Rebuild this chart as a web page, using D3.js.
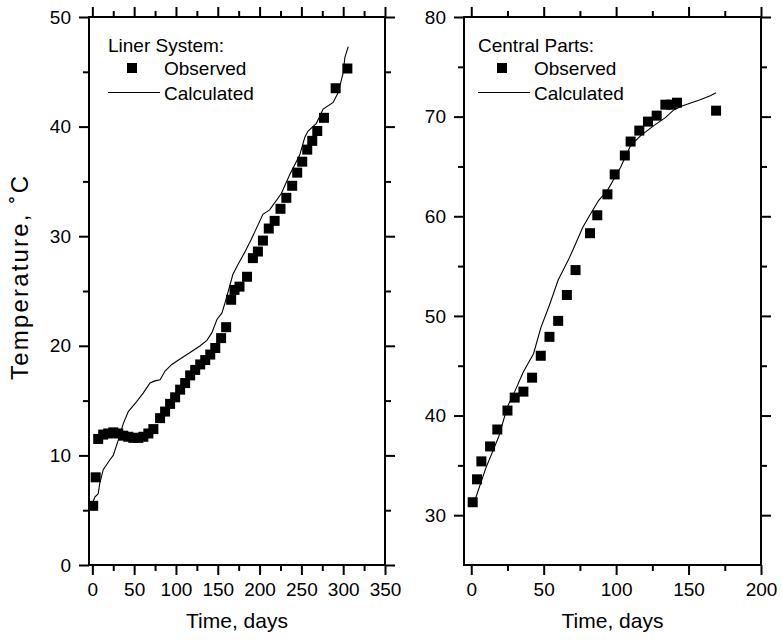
<!DOCTYPE html>
<html>
<head>
<meta charset="utf-8">
<script src="https://cdn.jsdelivr.net/npm/d3@7"></script>
<style>
  body { margin: 0; background: #fff; }
  svg { display: block; font-family: "Liberation Sans", Arial, sans-serif; }
  .tick text { font-size: 19px; fill: #000; }
  .tick line { stroke: #000; stroke-width: 2; }
  .title { font-size: 21px; }
  .legend { font-size: 19px; }
</style>
</head>
<body>
<script>
(function() {

// Liner system: observed / calculated (days, degC)
var linerObsDays = [1, 4, 7, 13, 19, 25, 31, 37, 43, 49, 55, 61, 67, 73, 81, 87, 93, 99, 105, 111, 117, 123, 129, 135, 141, 147, 154, 160, 166, 170, 176, 185, 192, 198, 204, 211, 218, 225, 232, 239, 245, 251, 257, 263, 269, 277, 291, 305];
var linerObsTemp = [5.4, 8.0, 11.5, 11.9, 12.0, 12.1, 12.0, 11.8, 11.7, 11.6, 11.6, 11.7, 12.0, 12.4, 13.4, 14.0, 14.7, 15.3, 16.0, 16.6, 17.3, 17.8, 18.3, 18.7, 19.2, 19.8, 20.7, 21.7, 24.2, 25.1, 25.4, 26.3, 28.0, 28.6, 29.6, 30.7, 31.4, 32.5, 33.5, 34.6, 35.8, 36.8, 37.9, 38.7, 39.6, 40.8, 43.5, 45.3];
var linerCalcDays = [1, 3, 7, 9, 13, 21, 25, 31, 37, 43, 53, 61, 69, 75, 81, 87, 95, 109, 121, 129, 137, 143, 149, 155, 159, 163, 168, 174, 182, 190, 204, 212, 226, 236, 248, 254, 258, 268, 276, 288, 294, 300, 302, 306];
var linerCalcTemp = [5.8, 6.2, 6.5, 7.5, 8.7, 9.6, 10.0, 11.4, 12.9, 14.0, 14.9, 15.7, 16.6, 16.8, 16.9, 17.7, 18.3, 19.0, 19.6, 20.0, 20.5, 21.2, 22.4, 23.0, 24.0, 25.1, 26.5, 27.4, 28.5, 29.7, 32.0, 32.4, 33.9, 35.6, 37.4, 39.0, 39.6, 40.3, 41.6, 42.2, 43.1, 44.9, 46.3, 47.3];

// Central parts
var centralObsDays = [1, 4, 7, 13, 18, 25, 30, 36, 42, 48, 54, 60, 66, 72, 82, 87, 94, 99, 106, 110, 116, 122, 128, 134, 138, 142, 169];
var centralObsTemp = [31.3, 33.6, 35.4, 36.9, 38.6, 40.5, 41.8, 42.4, 43.8, 46.0, 47.9, 49.5, 52.1, 54.6, 58.3, 60.1, 62.2, 64.2, 66.1, 67.5, 68.6, 69.5, 70.1, 71.2, 71.2, 71.4, 70.6];
var centralCalcDays = [3, 10, 19, 25, 30, 36, 43, 48, 54, 60, 67, 71, 77, 83, 88, 94, 103, 110, 117, 126, 134, 140, 146, 158, 165, 169];
var centralCalcTemp = [31.7, 34.7, 37.9, 40.9, 42.4, 44.4, 46.2, 48.8, 51.1, 53.6, 55.6, 56.9, 58.9, 60.4, 61.6, 62.6, 64.9, 67.1, 68.1, 69.1, 69.9, 70.7, 71.1, 71.7, 72.1, 72.4];

// Tick values
var linerXTicks = [0, 50, 100, 150, 200, 250, 300, 350];
var linerXMinor = [25, 75, 125, 175, 225, 275, 325];
var linerYTicks = [0, 10, 20, 30, 40, 50];
var linerYMinor = [5, 15, 25, 35, 45];
var centralXTicks = [0, 50, 100, 150, 200];
var centralXMinor = [25, 75, 125, 175];
var centralYTicks = [30, 40, 50, 60, 70, 80];
var centralYMinor = [35, 45, 55, 65, 75];

var width = 782, height = 640;
var top = 17, bottom = 565;

var svg = d3.select('body').append('svg')
    .attr('width', width)
    .attr('height', height);

function zip(a, b) {
  return a.map(function(d, i) { return [d, b[i]]; });
}

function panel(cfg) {
  var x = d3.scaleLinear().domain(cfg.xDomain).range([cfg.left, cfg.right]);
  var y = d3.scaleLinear().domain(cfg.yDomain).range([bottom, top]);
  var g = svg.append('g');

  // axes: outward on bottom/left, inward on top/right
  function axis(gen, scale, vals, size, tx, ty, labels) {
    var a = gen(scale).tickValues(vals).tickSize(size).tickSizeOuter(0).tickPadding(8);
    if (!labels) a.tickFormat('');
    var ag = g.append('g').attr('transform', 'translate(' + tx + ',' + ty + ')').call(a);
    ag.select('.domain').remove();
    return ag;
  }
  axis(d3.axisBottom, x, cfg.xTicks, 10, 0, bottom, true);
  axis(d3.axisBottom, x, cfg.xMinor, 6, 0, bottom, false);
  axis(d3.axisLeft, y, cfg.yTicks, 10, cfg.left, 0, true);
  axis(d3.axisLeft, y, cfg.yMinor, 6, cfg.left, 0, false);
  axis(d3.axisBottom, x, cfg.xTicks, -10, 0, top, false);
  axis(d3.axisBottom, x, cfg.xMinor, -6, 0, top, false);
  axis(d3.axisLeft, y, cfg.yTicks, -10, cfg.right, 0, false);
  axis(d3.axisLeft, y, cfg.yMinor, -6, cfg.right, 0, false);

  // Frame
  g.append('rect')
      .attr('x', cfg.left)
      .attr('y', top)
      .attr('width', cfg.right - cfg.left)
      .attr('height', bottom - top)
      .attr('fill', 'none')
      .attr('stroke', '#000')
      .attr('stroke-width', 2);

  // Calculated line
  var line = d3.line()
      .x(function(d) { return x(d[0]); })
      .y(function(d) { return y(d[1]); });
  g.append('path')
      .datum(zip(cfg.calcDays, cfg.calcTemp))
      .attr('d', line)
      .attr('fill', 'none')
      .attr('stroke', '#000')
      .attr('stroke-width', 1.1);

  // Observed squares
  g.selectAll('rect.obs')
      .data(zip(cfg.obsDays, cfg.obsTemp))
    .enter().append('rect')
      .attr('class', 'obs')
      .attr('x', function(d) { return x(d[0]) - 5; })
      .attr('y', function(d) { return y(d[1]) - 5; })
      .attr('width', 10)
      .attr('height', 10)
      .attr('fill', '#000');

  // X title
  g.append('text')
      .attr('class', 'title')
      .attr('x', (cfg.left + cfg.right) / 2)
      .attr('y', 628)
      .attr('text-anchor', 'middle')
      .text('Time, days');

  // Legend
  var lx = cfg.left + cfg.legendDx;
  g.append('text').attr('class', 'legend').attr('x', lx).attr('y', 52).text(cfg.name);
  g.append('rect')
      .attr('x', lx + 19).attr('y', 63)
      .attr('width', 10).attr('height', 10)
      .attr('fill', '#000');
  g.append('text').attr('class', 'legend').attr('x', lx + 56).attr('y', 75).text('Observed');
  g.append('line')
      .attr('x1', lx).attr('x2', lx + 52)
      .attr('y1', 92.5).attr('y2', 92.5)
      .attr('stroke', '#000').attr('stroke-width', 1.1);
  g.append('text').attr('class', 'legend').attr('x', lx + 56).attr('y', 100).text('Calculated');
}

panel({
  left: 89, right: 385, xDomain: [-4, 350], yDomain: [0, 50],
  xTicks: linerXTicks, xMinor: linerXMinor, yTicks: linerYTicks, yMinor: linerYMinor,
  obsDays: linerObsDays, obsTemp: linerObsTemp,
  calcDays: linerCalcDays, calcTemp: linerCalcTemp,
  name: 'Liner System:', legendDx: 19
});

panel({
  left: 464, right: 761, xDomain: [-5, 200], yDomain: [25, 80],
  xTicks: centralXTicks, xMinor: centralXMinor, yTicks: centralYTicks, yMinor: centralYMinor,
  obsDays: centralObsDays, obsTemp: centralObsTemp,
  calcDays: centralCalcDays, calcTemp: centralCalcTemp,
  name: 'Central Parts:', legendDx: 14
});

// Y title
svg.append('text')
    .attr('class', 'title')
    .attr('transform', 'translate(28,278) rotate(-90)')
    .attr('text-anchor', 'middle')
    .style('font-size', '24px')
    .attr('textLength', 204)
    .attr('lengthAdjust', 'spacing')
    .text('Temperature, ˚C');

})();
</script>
</body>
</html>
